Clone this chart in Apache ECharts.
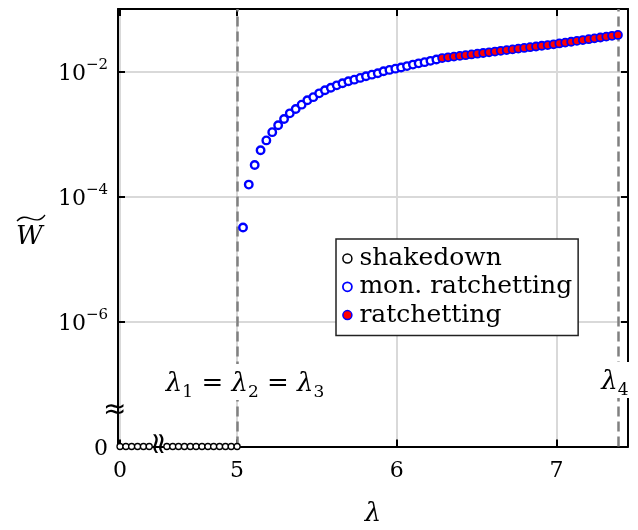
<!DOCTYPE html>
<html><head><meta charset="utf-8">
<script src="https://cdn.jsdelivr.net/npm/echarts@6/dist/echarts.min.js"></script>
<style>html,body{margin:0;padding:0;background:#fff}#c{width:638px;height:530px}</style>
</head><body><div id="c"></div>
<script>
// ---- data ----
const shakedownLambda = [0,0.037,0.073,0.110,0.147,0.183,4.560,4.597,4.633,4.670,4.707,4.743,4.780,4.817,4.853,4.890,4.927,4.963,5.000];
const shakedownW = [0,0,0,0,0,0,0,0,0,0,0,0,0,0,0,0,0,0,0];
const monLambda = [5.037,5.073,5.110,5.147,5.183,5.220,5.257,5.294,5.330,5.367,5.404,5.440,5.477,5.514,5.550,5.587,5.624,5.660,5.697,5.734,5.771,5.807,5.844,5.881,5.917,5.954,5.991,6.027,6.064,6.101,6.137,6.174,6.211,6.248];
const monW = [3.2e-5,1.55e-4,3.2e-4,5.5e-4,7.9e-4,1.07e-3,1.38e-3,1.74e-3,2.14e-3,2.51e-3,2.95e-3,3.47e-3,3.89e-3,4.47e-3,5.0e-3,5.5e-3,6.0e-3,6.5e-3,7.0e-3,7.4e-3,7.9e-3,8.4e-3,8.9e-3,9.4e-3,1.01e-2,1.06e-2,1.11e-2,1.16e-2,1.22e-2,1.29e-2,1.35e-2,1.41e-2,1.48e-2,1.56e-2];
const ratLambda = [6.284,6.321,6.358,6.395,6.431,6.468,6.505,6.541,6.578,6.615,6.651,6.688,6.725,6.761,6.798,6.835,6.872,6.908,6.945,6.982,7.018,7.055,7.092,7.128,7.165,7.202,7.238,7.275,7.312,7.348,7.385];
const ratW = [1.641e-2,1.685e-2,1.731e-2,1.777e-2,1.825e-2,1.875e-2,1.925e-2,1.977e-2,2.030e-2,2.086e-2,2.142e-2,2.200e-2,2.259e-2,2.320e-2,2.383e-2,2.447e-2,2.513e-2,2.581e-2,2.651e-2,2.723e-2,2.809e-2,2.899e-2,2.991e-2,3.087e-2,3.185e-2,3.286e-2,3.392e-2,3.500e-2,3.611e-2,3.727e-2,3.846e-2];
const xTickValues = [0,5,6,7];
const lambda123 = 5.0;
const lambda4 = 7.385;
const seriesNames = ['shakedown','mon. ratchetting','ratchetting'];

// ---- axis settings ----
const Y_ZERO = 1e-8;   // the "0" position on the broken log axis
const Y_MAX = 1e-1;
const X_MIN = -0.0125, X_MAX = 7.448;
const X_BREAK = {start: 0.22, end: 4.4865, gap: 0};
const LABEL_Y = 1.08e-7;

const SERIF = 'DejaVu Serif';
const zip = (a, b) => a.map((v, i) => [v, b[i] === 0 ? Y_ZERO : b[i]]);

const chart = echarts.init(document.getElementById('c'), null, {renderer: 'canvas'});

const commonX = {
  type: 'value', min: X_MIN, max: X_MAX,
  breaks: [X_BREAK],
  breakArea: {show: false},
  axisLine: {show: true, onZero: false, lineStyle: {color: '#000', width: 2}},
  axisTick: {show: true, inside: true, length: 7, lineStyle: {color: '#000', width: 2}, customValues: xTickValues},
};
const commonY = {
  type: 'log', logBase: 10, min: Y_ZERO, max: Y_MAX, interval: 2,
  axisLine: {show: true, onZero: false, lineStyle: {color: '#000', width: 2}},
  axisTick: {show: true, inside: true, length: 7, lineStyle: {color: '#000', width: 2}},
};

chart.setOption({
  animation: false,
  backgroundColor: '#fff',
  grid: {left: 118, right: 10, top: 9, bottom: 83.5, containLabel: false, outerBoundsMode: 'none'},
  xAxis: [
    Object.assign({}, commonX, {
      position: 'bottom',
      axisLabel: {show: true, customValues: xTickValues, fontFamily: SERIF, fontSize: 22, color: '#000', margin: 14},
      splitLine: {show: true, lineStyle: {color: '#d9d9d9', width: 2}},
      name: 'λ', nameLocation: 'middle', nameGap: 55,
      nameTextStyle: {fontFamily: SERIF, fontStyle: 'italic', fontSize: 26, color: '#000'}
    }),
    Object.assign({}, commonX, {
      position: 'top',
      axisLabel: {show: false},
      splitLine: {show: false}
    })
  ],
  yAxis: [
    Object.assign({}, commonY, {
      position: 'left',
      axisLabel: {
        show: true, showMaxLabel: false, margin: 10, color: '#000', fontFamily: SERIF,
        formatter: function (v) {
          const e = Math.round(Math.log10(v));
          if (e <= -8) return '{b|0}';
          return '{b|10}{s|−' + (-e) + '}';
        },
        rich: {
          b: {fontFamily: SERIF, fontSize: 22, lineHeight: 28, verticalAlign: 'bottom', color: '#000'},
          s: {fontFamily: SERIF, fontSize: 15, lineHeight: 18, verticalAlign: 'top', color: '#000'}
        }
      },
      splitLine: {show: true, lineStyle: {color: '#d9d9d9', width: 2}}
    }),
    Object.assign({}, commonY, {
      position: 'right',
      axisLabel: {show: false},
      splitLine: {show: false}
    })
  ],
  legend: {
    orient: 'vertical', left: 336, top: 239,
    data: [
      {name: seriesNames[0], itemStyle: {borderWidth: 1.5}},
      {name: seriesNames[1], itemStyle: {borderWidth: 1.8}},
      {name: seriesNames[2], itemStyle: {borderWidth: 1.5}}
    ],
    itemWidth: 14, itemHeight: 9, itemGap: 3.3,
    padding: [7, 6, 8, 6],
    backgroundColor: '#fff', borderColor: '#222', borderWidth: 1.5, borderRadius: 0,
    textStyle: {fontFamily: SERIF, fontSize: 25, lineHeight: 24, color: '#000'}
  },
  series: [
    {
      name: seriesNames[0], type: 'scatter', clip: false, z: 5,
      data: zip(shakedownLambda, shakedownW),
      symbol: 'circle', symbolSize: 6,
      itemStyle: {color: '#fff', borderColor: '#000', borderWidth: 1.3, opacity: 1},
      markLine: {
        silent: true, symbol: 'none', z: 3,
        label: {show: false},
        lineStyle: {color: '#808080', type: [10, 5], width: 2.5, opacity: 1},
        data: [
          [{coord: [lambda123, Y_ZERO]}, {coord: [lambda123, Y_MAX]}],
          [{coord: [lambda4, Y_ZERO]}, {coord: [lambda4, Y_MAX]}]
        ]
      },
      markPoint: {
        silent: true, symbol: 'rect', symbolSize: 1, z: 4,
        itemStyle: {color: 'rgba(0,0,0,0)'},
        label: {
          show: true, position: 'inside', backgroundColor: '#fff', padding: [3, 2],
          color: '#000', fontFamily: SERIF,
          rich: {
            l: {fontFamily: SERIF, fontStyle: 'italic', fontSize: 26, color: '#000', lineHeight: 30, verticalAlign: 'bottom'},
            t: {fontFamily: SERIF, fontSize: 26, color: '#000', lineHeight: 30, verticalAlign: 'bottom'},
            u: {fontFamily: SERIF, fontSize: 17, color: '#000', lineHeight: 18, verticalAlign: 'bottom', padding: [0, 0, -4, 0]}
          }
        },
        data: [
          {coord: [lambda123, LABEL_Y], label: {offset: [8, 0], formatter: '{l|λ}{u|1}{t| = }{l|λ}{u|2}{t| = }{l|λ}{u|3}'}},
          {coord: [lambda4, LABEL_Y], label: {offset: [-3, -2], formatter: '{l|λ}{u|4}'}}
        ]
      }
    },
    {
      name: seriesNames[1], type: 'scatter', clip: false, z: 5,
      data: zip(monLambda, monW),
      symbol: 'circle', symbolSize: 7.5,
      itemStyle: {color: '#fff', borderColor: '#0000ff', borderWidth: 2.4, opacity: 1}
    },
    {
      name: seriesNames[2], type: 'scatter', clip: false, z: 6,
      data: zip(ratLambda, ratW),
      symbol: 'circle', symbolSize: 8,
      itemStyle: {color: '#ff0000', borderColor: '#0000ff', borderWidth: 1.8, opacity: 1}
    }
  ],
  graphic: [
    {type: 'text', left: 103, top: 397, z: 100, style: {text: '≈', font: '28px "DejaVu Sans"', fill: '#000'}},
    {type: 'text', x: 172, y: 431, rotation: -Math.PI / 2, z: 100, style: {text: '≈', font: '30px "DejaVu Sans"', fill: '#000'}},
    {type: 'text', left: 16, top: 224, z: 100, style: {text: 'W', font: 'italic 26px "DejaVu Serif"', fill: '#000'}},
    {type: 'bezierCurve', z: 100, shape: {x1: 17, y1: 221, cpx1: 27, cpy1: 210, cpx2: 35, cpy2: 228, x2: 45, y2: 215},
     style: {stroke: '#000', lineWidth: 1.3, fill: null}}
  ]
});
</script></body></html>
